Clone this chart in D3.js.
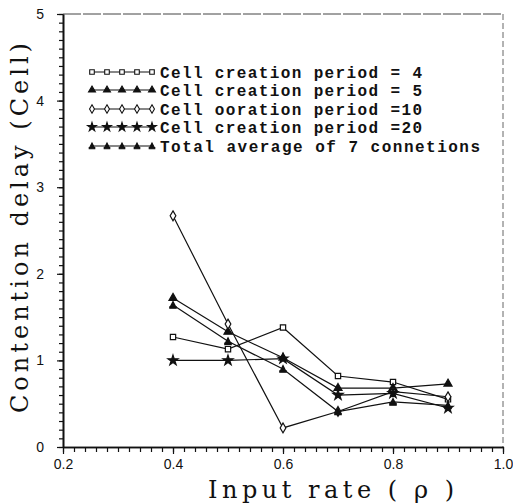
<!DOCTYPE html>
<html>
<head>
<meta charset="utf-8">
<script src="https://cdn.jsdelivr.net/npm/d3@7"></script>
<style>
  body { margin: 0; background: white; }
  .tickLabel text { font-family: 'Liberation Sans', sans-serif; font-size: 14px; fill: #111; }
  .aTitle { font-family: 'DejaVu Serif', serif; font-size: 24px; fill: #111; }
  .legText { font-family: 'Liberation Mono', monospace; font-size: 16px; font-weight: bold; fill: #111; }
</style>
</head>
<body>
<div id="chart"></div>
<script>
// input rate values on the x axis
var rates = [0.4, 0.5, 0.6, 0.7, 0.8, 0.9];
// contention delay (cells) per series
var period4 = [1.27, 1.13, 1.38, 0.82, 0.75, 0.55];
var period5 = [1.72, 1.33, 1.03, 0.68, 0.68, 0.73];
var period10 = [2.67, 1.42, 0.22, 0.41, 0.64, 0.58];
var period20 = [1.00, 1.00, 1.02, 0.60, 0.62, 0.45];
var totalAvg = [1.64, 1.22, 0.90, 0.41, 0.52, 0.48];
var seriesNames = [
    'Cell creation period = 4',
    'Cell creation period = 5',
    'Cell ooration period =10',
    'Cell creation period =20',
    'Total average of 7 connetions'
];
var xTicks = [0.2, 0.4, 0.6, 0.8, 1.0];
var yTicks = [0, 1, 2, 3, 4, 5];

var width = 513;
var height = 503;
var plotL = 63, plotR = 503, plotT = 14, plotB = 447;

var svg = d3
    .select('#chart')
    .append('svg')
    .attr('width', width)
    .attr('height', height)
    .style('background', 'white');

var xScale = d3.scaleLinear().domain([0.2, 1.0]).range([plotL, plotR]);
var yScale = d3.scaleLinear().domain([0, 5]).range([plotB, plotT]);

// frame top / right (faint in the scan)
svg.append('line')
    .attr('x1', plotL).attr('x2', plotR).attr('y1', plotT).attr('y2', plotT)
    .attr('stroke', '#444').attr('stroke-width', 1).attr('stroke-dasharray', '18,2');
svg.append('line')
    .attr('x1', plotR).attr('x2', plotR).attr('y1', plotT).attr('y2', plotB)
    .attr('stroke', '#666').attr('stroke-width', 1).attr('stroke-dasharray', '6,3');

// minor ticks
svg.append('g')
    .attr('transform', `translate(0,${plotB})`)
    .call(d3.axisBottom(xScale).tickValues(d3.range(0.2, 1.001, 0.02)).tickFormat('').tickSize(5).tickSizeOuter(0));
svg.append('g')
    .attr('transform', `translate(${plotL},0)`)
    .call(d3.axisLeft(yScale).tickValues(d3.range(0, 5.001, 0.1)).tickFormat('').tickSize(4).tickSizeOuter(0));

// major ticks + labels
svg.append('g')
    .attr('class', 'tickLabel')
    .attr('transform', `translate(0,${plotB})`)
    .call(d3.axisBottom(xScale).tickValues(xTicks).tickFormat(d3.format('.1f')).tickSize(7).tickPadding(5).tickSizeOuter(0));
svg.append('g')
    .attr('class', 'tickLabel')
    .attr('transform', `translate(${plotL},0)`)
    .call(d3.axisLeft(yScale).tickValues(yTicks).tickFormat(d3.format('d')).tickSize(6).tickPadding(13).tickSizeOuter(0));

svg.selectAll('.domain').attr('stroke', '#111').attr('stroke-width', 1.6);
svg.selectAll('.tick line').attr('stroke', '#111').attr('stroke-width', 1.2);

// axis titles
svg.append('text')
    .attr('class', 'aTitle')
    .attr('x', 331)
    .attr('y', 498)
    .attr('text-anchor', 'middle')
    .attr('textLength', 246)
    .attr('lengthAdjust', 'spacing')
    .text('Input rate ( \u03C1 )');

svg.append('text')
    .attr('class', 'aTitle')
    .attr('transform', 'translate(28,228)rotate(-90)')
    .attr('text-anchor', 'middle')
    .attr('textLength', 370)
    .attr('lengthAdjust', 'spacing')
    .text('Contention delay (Cell)');

// marker for the "total average" series: triangle standing on a bar
var barTriangle = {
    draw: function(context, size) {
        var r = Math.sqrt(size) / 2;
        context.moveTo(0, -r * 1.2);
        context.lineTo(r * 0.9, r * 0.6);
        context.lineTo(-r * 0.9, r * 0.6);
        context.closePath();
        context.rect(-r * 1.1, r * 0.6, r * 2.2, r * 0.5);
    }
};

var series = [
    { name: seriesNames[0], values: period4, type: d3.symbolSquare, size: 28, fill: 'white' },
    { name: seriesNames[1], values: period5, type: d3.symbolTriangle, size: 28, fill: '#111' },
    { name: seriesNames[2], values: period10, type: d3.symbolDiamond, size: 28, fill: 'white' },
    { name: seriesNames[3], values: period20, type: d3.symbolStar, size: 32, fill: '#111' },
    { name: seriesNames[4], values: totalAvg, type: barTriangle, size: 34, fill: '#111' }
];

var line = d3.line()
    .x((d, i) => xScale(rates[i]))
    .y(d => yScale(d));

series.forEach(s => {
    svg.append('path')
        .attr('d', line(s.values))
        .attr('fill', 'none')
        .attr('stroke', '#111')
        .attr('stroke-width', 1.2);

    svg.selectAll(null)
        .data(s.values)
        .enter()
        .append('path')
        .attr('d', d3.symbol().type(s.type).size(s.size))
        .attr('transform', (d, i) => `translate(${xScale(rates[i])},${yScale(d)})`)
        .attr('fill', s.fill)
        .attr('stroke', '#111')
        .attr('stroke-width', 1.2);
});

// legend
var legY = [72, 90, 109, 127, 146];
var legLen = [262, 262, 262, 262, 320];
var legend = svg.append('g').attr('class', 'legend');

series.forEach((s, k) => {
    var y0 = legY[k];
    legend.append('line')
        .attr('x1', 92).attr('x2', 152)
        .attr('y1', y0).attr('y2', y0)
        .attr('stroke', '#111').attr('stroke-width', 1.2);
    legend.selectAll(null)
        .data(d3.range(5))
        .enter()
        .append('path')
        .attr('d', d3.symbol().type(s.type).size(s.size * 0.75))
        .attr('transform', d => `translate(${92 + d * 15},${y0})`)
        .attr('fill', s.fill)
        .attr('stroke', '#111')
        .attr('stroke-width', 1.1);
    legend.append('text')
        .attr('class', 'legText')
        .attr('x', 160)
        .attr('y', y0 + 6)
        .attr('textLength', legLen[k])
        .attr('lengthAdjust', 'spacing')
        .text(s.name);
});
</script>
</body>
</html>
